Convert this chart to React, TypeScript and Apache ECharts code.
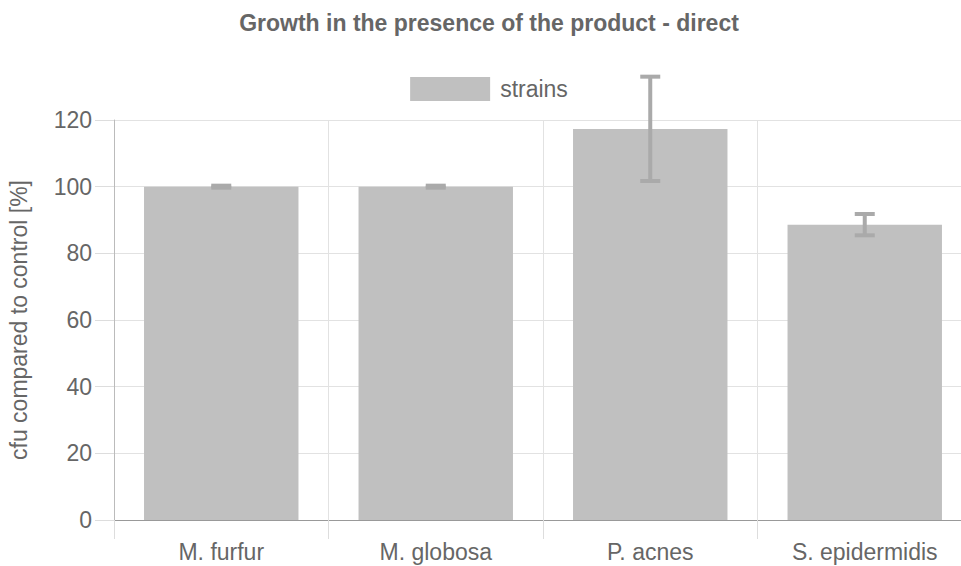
import React, { useEffect, useRef } from "react";
import * as echarts from "echarts";

const titleText = "Growth in the presence of the product - direct";
const categories = ["M. furfur", "M. globosa", "P. acnes", "S. epidermidis"];
const seriesName = "strains";
const means = [100, 100, 117.3, 88.6];
const errLow = [99.7, 99.7, 101.7, 85.4];
const errHigh = [100.3, 100.3, 133.0, 91.8];
const yTicks = { min: 0, max: 120, interval: 20 };
const yAxisName = "cfu compared to control [%]";

export default function App() {
  const ref = useRef<HTMLDivElement>(null);
  useEffect(() => {
    if (!ref.current) return;
    const chart = echarts.init(ref.current, null, { renderer: "svg" });
    const font = "'Liberation Sans', Arial, sans-serif";
    const errData = categories.map((_, i) => [i, errLow[i], errHigh[i]]);
    chart.setOption({
      animation: false,
      textStyle: { fontFamily: font },
      title: {
        text: titleText,
        left: "center",
        top: 6,
        textStyle: { fontFamily: font, fontSize: 23, fontWeight: "bold", color: "#666" },
      },
      legend: {
        top: 72,
        left: "center",
        itemWidth: 80,
        itemHeight: 24,
        itemGap: 10,
        icon: "rect",
        data: [seriesName],
        textStyle: { fontFamily: font, fontSize: 23, color: "#666", padding: [0, 0, 0, 5] },
      },
      grid: { left: 114, right: 6, top: 120, bottom: 46, containLabel: false, outerBoundsMode: "none" },
      xAxis: {
        type: "category",
        data: categories,
        boundaryGap: true,
        axisLine: { show: true, lineStyle: { color: "#999", width: 1 } },
        axisTick: { show: true, length: 19, lineStyle: { color: "#ddd" } },
        splitLine: { show: true, lineStyle: { color: "#e2e2e2" } },
        axisLabel: { fontFamily: font, fontSize: 23, color: "#666", margin: 20 },
      },
      yAxis: {
        type: "value",
        min: yTicks.min,
        max: yTicks.max,
        interval: yTicks.interval,
        name: yAxisName,
        nameLocation: "middle",
        nameGap: 84,
        nameTextStyle: { fontFamily: font, fontSize: 23, color: "#666" },
        axisLine: { show: true, lineStyle: { color: "#bbb" } },
        axisTick: { show: true, length: 19, lineStyle: { color: "#ddd" } },
        splitLine: { show: true, lineStyle: { color: "#e2e2e2" } },
        axisLabel: { fontFamily: font, fontSize: 23, color: "#666", margin: 22 },
      },
      series: [
        {
          name: seriesName,
          type: "bar",
          data: means,
          barWidth: "72%",
          itemStyle: { color: "#c0c0c0" },
          z: 2,
        },
        {
          name: "error",
          type: "custom",
          data: errData,
          z: 3,
          renderItem: (params: any, api: any) => {
            const x = api.value(0);
            const lo = api.coord([x, api.value(1)]);
            const hi = api.coord([x, api.value(2)]);
            const half = 10;
            const style = { stroke: "#aaa", lineWidth: 4 };
            return {
              type: "group",
              children: [
                { type: "line", shape: { x1: hi[0], y1: hi[1], x2: lo[0], y2: lo[1] }, style },
                { type: "line", shape: { x1: hi[0] - half, y1: hi[1], x2: hi[0] + half, y2: hi[1] }, style },
                { type: "line", shape: { x1: lo[0] - half, y1: lo[1], x2: lo[0] + half, y2: lo[1] }, style },
              ],
            };
          },
        },
      ],
    });
    return () => chart.dispose();
  }, []);
  return (
    <div style={{ position: "fixed", left: 0, top: 0, width: 961, height: 566, overflow: "hidden", background: "#fff" }}>
      <div ref={ref} style={{ width: 978, height: 566 }} />
    </div>
  );
}
